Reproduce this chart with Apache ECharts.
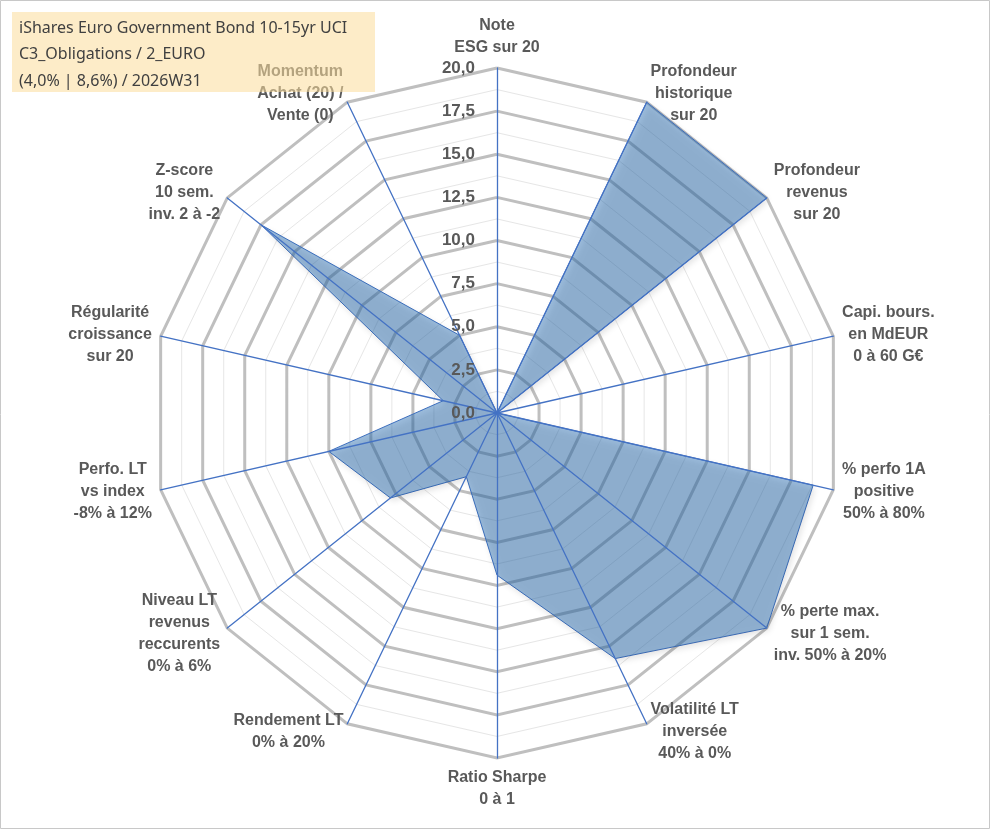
<!DOCTYPE html>
<html>
<head>
<meta charset="utf-8">
<title>Radar ETF</title>
<script src="https://cdn.jsdelivr.net/npm/echarts@6/dist/echarts.min.js"></script>
<style>
  html, body { margin: 0; padding: 0; background: #fff; }
  #main { width: 991px; height: 830px; }
</style>
</head>
<body>
<div id="main"></div>
<script>
// critères, dans l'ordre des aiguilles d'une montre en partant du haut
var criteres = [
    'Note\nESG sur 20',
    'Profondeur\nhistorique\nsur 20',
    'Profondeur\nrevenus\nsur 20',
    'Capi. bours.\nen MdEUR\n0 à 60 G€',
    '% perfo 1A\npositive\n50% à 80%',
    '% perte max.\nsur 1 sem.\ninv. 50% à 20%',
    'Volatilité LT\ninversée\n40% à 0%',
    'Ratio Sharpe\n0 à 1',
    'Rendement LT\n0% à 20%',
    'Niveau LT\nrevenus\nreccurents\n0% à 6%',
    'Perfo. LT\nvs index\n-8% à 12%',
    'Régularité\ncroissance\nsur 20',
    'Z-score\n10 sem.\ninv. 2 à -2',
    'Momentum\nAchat (20) /\nVente (0)'
];
// notes (échelle 0 à 20)
var notes = [0, 20, 20, 0, 18.8, 20, 15.8, 9.4, 4.1, 7.9, 10, 3.2, 17.5, 5];
var echelleMin = 0;
var echelleMax = 20;
var pasGraduation = 2.5;
var titreLignes = [
    'iShares Euro Government Bond 10-15yr UCI',
    'C3_Obligations / 2_EURO',
    '(4,0% | 8,6%) / 2026W31'
];

var centre = [497, 413];
var rayon = 345;

function drewRadar() {
    var myChart = echarts.init(document.getElementById('main'));

    // echarts tourne dans le sens inverse : on garde le 1er et on inverse le reste
    var ordre = [0];
    for (var i = criteres.length - 1; i > 0; i--) {
        ordre.push(i);
    }
    var indicateurs = [];
    var valeurs = [];
    for (var j = 0; j < ordre.length; j++) {
        indicateurs.push({ name: criteres[ordre[j]], min: echelleMin, max: echelleMax });
        valeurs.push(notes[ordre[j]]);
    }
    var nbDiv = (echelleMax - echelleMin) / pasGraduation;

    var option = {
        backgroundColor: '#ffffff',
        animation: false,
        radar: [
            {
                // traits fins intermédiaires + libellés
                indicator: indicateurs,
                center: centre,
                radius: rayon,
                startAngle: 90,
                shape: 'polygon',
                splitNumber: nbDiv * 2,
                nameGap: 9,
                axisName: {
                    // chaque ligne centrée dans son bloc
                    formatter: function (nom) {
                        return nom.split('\n').map(function (l) { return '{c|' + l + '}'; }).join('\n');
                    },
                    rich: {
                        c: {
                            align: 'center',
                            color: '#595959',
                            fontFamily: 'Liberation Sans, Arial',
                            fontWeight: 'bold',
                            fontSize: 16,
                            lineHeight: 22
                        }
                    }
                },
                splitLine: { lineStyle: { color: '#E6E6E6', width: 1 } },
                splitArea: { show: false },
                axisLine: { show: false },
                axisTick: { show: false },
                axisLabel: { show: false }
            },
            {
                // anneaux principaux gris
                indicator: indicateurs,
                center: centre,
                radius: rayon,
                startAngle: 90,
                shape: 'polygon',
                splitNumber: nbDiv,
                axisName: { show: false },
                splitLine: { lineStyle: { color: '#BFBFBF', width: 3 } },
                splitArea: { show: false },
                axisLine: { show: false },
                axisTick: { show: false },
                axisLabel: { show: false }
            },
            {
                // axes bleus par dessus la surface
                indicator: indicateurs,
                center: centre,
                radius: rayon,
                startAngle: 90,
                shape: 'polygon',
                splitNumber: nbDiv,
                z: 5,
                axisName: { show: false },
                splitLine: { show: false },
                splitArea: { show: false },
                axisLine: { lineStyle: { color: '#4472C4', width: 1.3 } },
                axisTick: { show: false },
                axisLabel: { show: false }
            }
        ],
        // graduations 0,0 ... 20,0 sur l'axe du haut
        polar: { center: centre, radius: rayon },
        angleAxis: { type: 'value', show: false, startAngle: 90, min: 0, max: 360 },
        radiusAxis: {
            type: 'value',
            min: echelleMin,
            max: echelleMax,
            interval: pasGraduation,
            z: 6,
            axisLine: { show: false },
            axisTick: { show: false },
            splitLine: { show: false },
            axisLabel: {
                margin: 22,
                color: '#595959',
                fontFamily: 'Liberation Sans, Arial',
                fontWeight: 'bold',
                fontSize: 17,
                formatter: function (v) { return v.toFixed(1).replace('.', ','); }
            }
        },
        series: [
            {
                type: 'radar',
                radarIndex: 0,
                z: 3,
                symbol: 'none',
                lineStyle: { color: '#4472C4', width: 1 },
                areaStyle: {
                    color: 'rgba(40,110,180,0.65)',
                    shadowBlur: 6,
                    shadowColor: 'rgba(0,0,0,0.25)',
                    shadowOffsetX: 2,
                    shadowOffsetY: 3
                },
                data: [{ value: valeurs, name: titreLignes[0] }]
            }
        ],
        graphic: [
            {
                type: 'rect',
                z: 100,
                shape: { x: 0.5, y: 0.5, width: 989, height: 828 },
                style: { fill: 'none', stroke: '#C8C8C8', lineWidth: 1 }
            },
            {
                type: 'rect',
                z: 100,
                shape: { x: 12, y: 12, width: 363, height: 80 },
                style: { fill: 'rgba(252,221,157,0.56)' }
            },
            {
                type: 'text',
                z: 101,
                left: 19,
                top: 15,
                style: {
                    text: titreLignes.join('\n'),
                    fill: '#404040',
                    font: '16px "Noto Sans"',
                    lineHeight: 26.5
                }
            }
        ]
    };
    myChart.setOption(option);
}
drewRadar();
</script>
</body>
</html>
